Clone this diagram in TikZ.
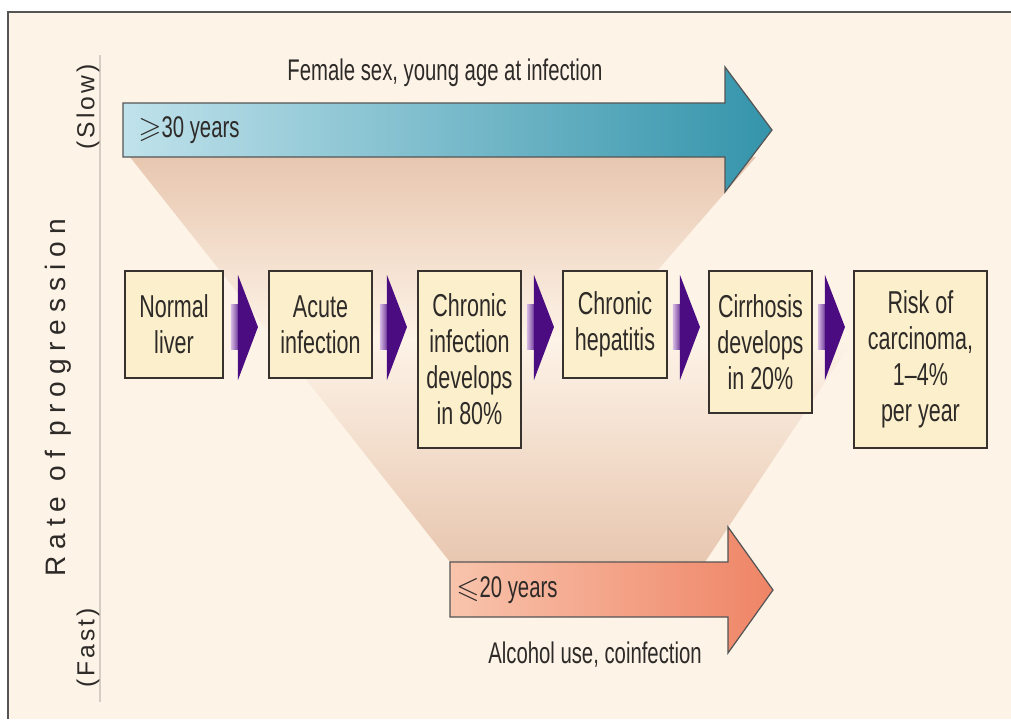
\documentclass[tikz,border=0pt]{standalone}
\usepackage{amsmath, amssymb}
\usepackage{fontspec}
\setmainfont{Liberation Sans}[FakeStretch=0.68]
\newfontfamily\axisfont{Liberation Sans}[LetterSpace=25]
\newfontfamily\sideword{Liberation Sans}[LetterSpace=12]
\usepackage{xcolor}
\usepackage{tikz}
\usetikzlibrary{calc}

\definecolor{bgcol}{RGB}{253,243,231}
\definecolor{framecol}{RGB}{85,85,85}
\definecolor{peach}{RGB}{232,199,176}
\definecolor{boxfill}{RGB}{252,239,203}
\definecolor{boxline}{RGB}{55,50,45}
\definecolor{inkcol}{RGB}{45,42,40}
\definecolor{tealL}{RGB}{192,226,235}
\definecolor{tealR}{RGB}{52,148,171}
\definecolor{salmonL}{RGB}{248,196,172}
\definecolor{salmonR}{RGB}{239,132,102}
\definecolor{chevron}{RGB}{74,12,128}
\definecolor{lilac}{RGB}{214,186,226}
\definecolor{axisline}{RGB}{215,205,194}

\begin{document}
\begin{tikzpicture}[x=0.2mm, y=-0.2mm,
    stage/.style={draw=boxline, line width=1.1pt, fill=boxfill, anchor=north west,
      align=center, inner sep=3pt, text=inkcol,
      font=\fontsize{18}{20.5}\selectfont},
    tag/.style={text=inkcol, inner sep=0pt, font=\fontsize{17}{20}\selectfont},
    sidetag/.style={text=inkcol, inner sep=0pt, rotate=90}]
  \useasboundingbox (0,0) rectangle (1011,719);
  % frame
  \fill[bgcol] (8,12) rectangle (1011,719);
  \draw[framecol, line width=1.2pt] (1011,12) -- (8,12) -- (8,719);

  % funnel
  \shade[top color=peach, bottom color=bgcol] (130,157) -- (756,157) -- (597,340) -- (275,340) -- cycle;
  \shade[top color=bgcol, bottom color=peach] (275,340) -- (853,340) -- (705,562) -- (450,562) -- cycle;

  % slow and fast arrows
  \shadedraw[left color=tealL, right color=tealR, draw=framecol, line width=0.7pt]
    (123,103) -- (725,103) -- (725,67) -- (772,130) -- (725,192) -- (725,157) -- (123,157) -- cycle;
  \shadedraw[left color=salmonL, right color=salmonR, draw=framecol, line width=0.7pt]
    (450,562) -- (728,562) -- (728,527) -- (773,590) -- (728,653) -- (728,617) -- (450,617) -- cycle;
  \node[tag] (female) at (445,73) {Female sex, young age at infection};
  \node[tag, anchor=west] (slowyears) at (138,130) {$\geqslant$30 years};
  \node[tag, anchor=west] (fastyears) at (456,590) {$\leqslant$20 years};
  \node[tag] (alcohol) at (595,655) {Alcohol use, coinfection};

  % rate axis
  \draw[axisline, line width=0.8pt] (100,55) -- (100,702);
  \node[sidetag, font=\axisfont\fontsize{16}{19}\selectfont] (rate) at (58,398) {Rate of progression};
  \node[sidetag, font=\sideword\fontsize{14}{16}\selectfont] (slow) at (88,107) {(Slow)};
  \node[sidetag, font=\sideword\fontsize{14}{16}\selectfont] (fast) at (88,648) {(Fast)};

  % stages
  \node[stage, minimum width=19.6mm, minimum height=21.4mm] (liver) at (124,270) {Normal\\liver};
  \node[stage, minimum width=20.6mm, minimum height=21.4mm] (acute) at (268,270) {Acute\\infection};
  \node[stage, minimum width=20.6mm, minimum height=35.4mm] (chronic) at (417,270) {Chronic\\infection\\develops\\in 80\%};
  \node[stage, minimum width=20.8mm, minimum height=21.4mm] (hepatitis) at (562,270) {Chronic\\hepatitis};
  \node[stage, minimum width=20.6mm, minimum height=28.4mm] (cirrhosis) at (708,270) {Cirrhosis\\develops\\in 20\%};
  \node[stage, minimum width=26.6mm, minimum height=35.4mm] (risk) at (853,270) {Risk of\\carcinoma,\\1--4\%\\per year};

  % chevrons between stages
  \foreach \p/\q in {liver/acute, acute/chronic, chronic/hepatitis, hepatitis/cirrhosis, cirrhosis/risk} {
    \path ($(\p.north east)!0.5!(\q.north west)$) ++(0,57) coordinate (mid);
    \shade[left color=lilac, right color=chevron] ([shift={(-15,-23)}]mid) rectangle ([shift={(-5,22)}]mid);
    \fill[chevron] ([shift={(-8,-52)}]mid) -- ([shift={(12,0)}]mid) -- ([shift={(-8,53)}]mid) -- cycle;
  }
\end{tikzpicture}
\end{document}
